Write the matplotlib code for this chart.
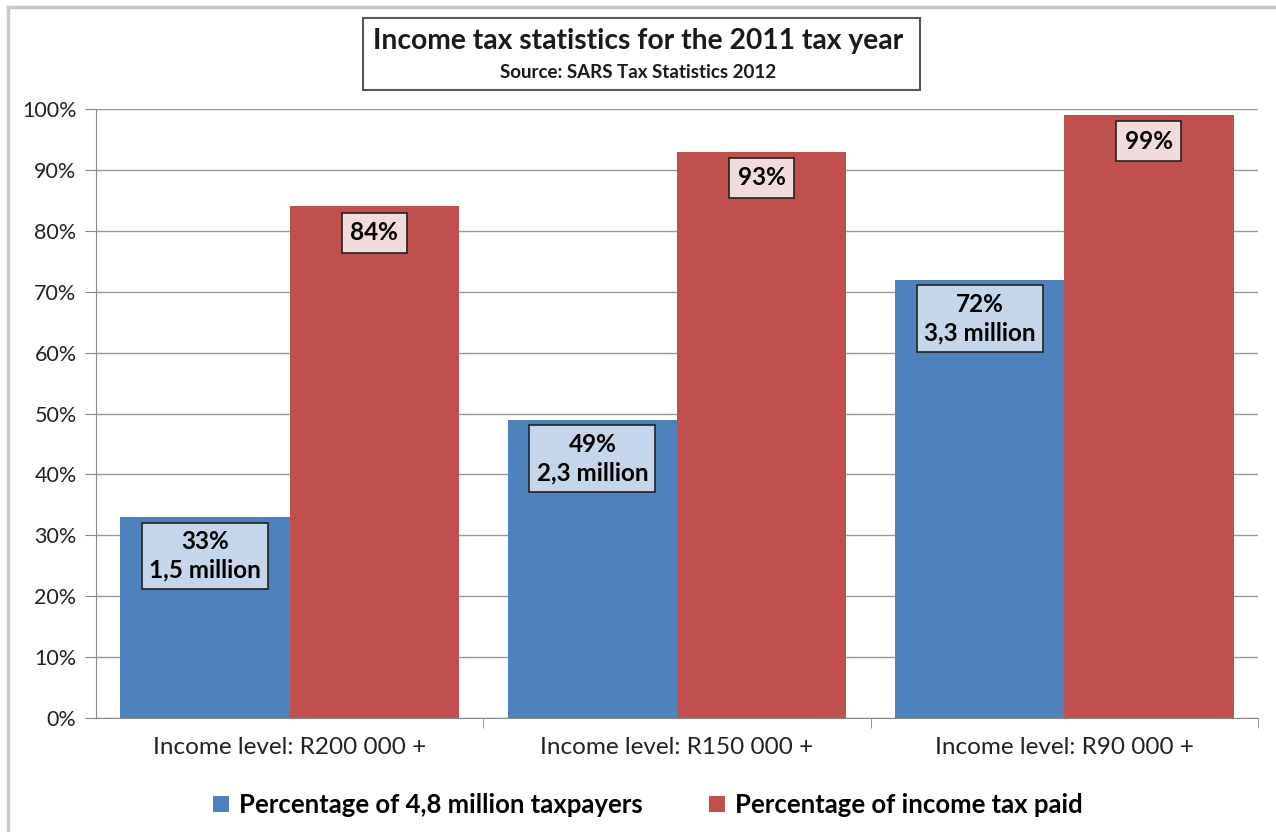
import matplotlib.pyplot as plt
import numpy as np

categories = ['Income level: R200 000 +', 'Income level: R150 000 +', 'Income level: R90 000 +']
taxpayers = [33, 49, 72]
tax_paid = [84, 93, 99]
taxpayer_counts = ['1,5 million', '2,3 million', '3,3 million']
series_names = ['Percentage of 4,8 million taxpayers', 'Percentage of income tax paid']

blue = '#4F81BD'
red = '#C0504D'

plt.rcParams['font.family'] = ['Lato', 'DejaVu Sans']

fig = plt.figure(figsize=(12.76, 8.32), dpi=100)
ax = fig.add_axes([96/1276, 1-718/832, (1258-96)/1276, (718-109)/832])

x = np.arange(len(categories))
w = 0.437
b1 = ax.bar(x - w/2, taxpayers, w, color=blue, label=series_names[0], zorder=2)
b2 = ax.bar(x + w/2, tax_paid, w, color=red, label=series_names[1], zorder=2)

# labels in boxes
for i in range(len(categories)):
    ax.text(x[i] - w/2, taxpayers[i] - 6.4, '%d%%\n%s' % (taxpayers[i], taxpayer_counts[i]),
            ha='center', va='center', fontsize=17.5, fontweight='bold', linespacing=1.3,
            bbox=dict(boxstyle='square,pad=0.3', fc='#C6D6EA', ec='#222222', lw=1.2), zorder=3)
    ax.text(x[i] + w/2, tax_paid[i] - 4.3, '%d%%' % tax_paid[i],
            ha='center', va='center', fontsize=17.5, fontweight='bold',
            bbox=dict(boxstyle='square,pad=0.35', fc='#F2DCDB', ec='#222222', lw=1.2), zorder=3)

ax.set_xlim(-0.5, 2.5)
ax.set_ylim(0, 100)
ax.set_yticks(np.arange(0, 101, 10))
ax.set_yticklabels(['%d%%' % v for v in range(0, 101, 10)], fontsize=15.5, color='#222222')
ax.set_xticks(x)
ax.set_xticklabels(categories, fontsize=17.5, color='#222222')
ax.set_xticks([0.5, 1.5, 2.5], minor=True)
ax.tick_params(axis='x', which='major', length=0, pad=14)
ax.tick_params(axis='x', which='minor', length=7, color='#888888')
ax.tick_params(axis='y', length=8, color='#888888', pad=6)
ax.grid(axis='y', color='#999999', lw=1, zorder=0)
for s in ['top', 'right']:
    ax.spines[s].set_visible(False)
for s in ['left', 'bottom']:
    ax.spines[s].set_color('#888888')

ax.legend(loc='upper center', bbox_to_anchor=(0.475, -0.085), ncol=2, frameon=False,
          prop={'size': 18.5, 'weight': 'bold'}, handlelength=0.6, handleheight=0.6,
          handletextpad=0.4, columnspacing=2.6)

# title box
fig.text(0.5, 1-41/832, 'Income tax statistics for the 2011 tax year', ha='center', va='center',
         fontsize=20.3, fontweight='bold', color='#1a1a1a')
fig.text(0.5, 1-72/832, 'Source: SARS Tax Statistics 2012', ha='center', va='center',
         fontsize=13.5, fontweight='bold', color='#1a1a1a')
fig.add_artist(plt.Rectangle((363/1276, 1-90/832), (920-363)/1276, 72/832,
                             transform=fig.transFigure, fill=False, ec='#555555', lw=1.5))
# outer border
fig.add_artist(plt.Line2D([8/1276, 8/1276], [0, 1-7/832], transform=fig.transFigure, color='#c8c8c8', lw=2.5))
fig.add_artist(plt.Line2D([8/1276, 1], [1-7/832, 1-7/832], transform=fig.transFigure, color='#c8c8c8', lw=2.5))

fig.savefig('out.png', dpi=100)
